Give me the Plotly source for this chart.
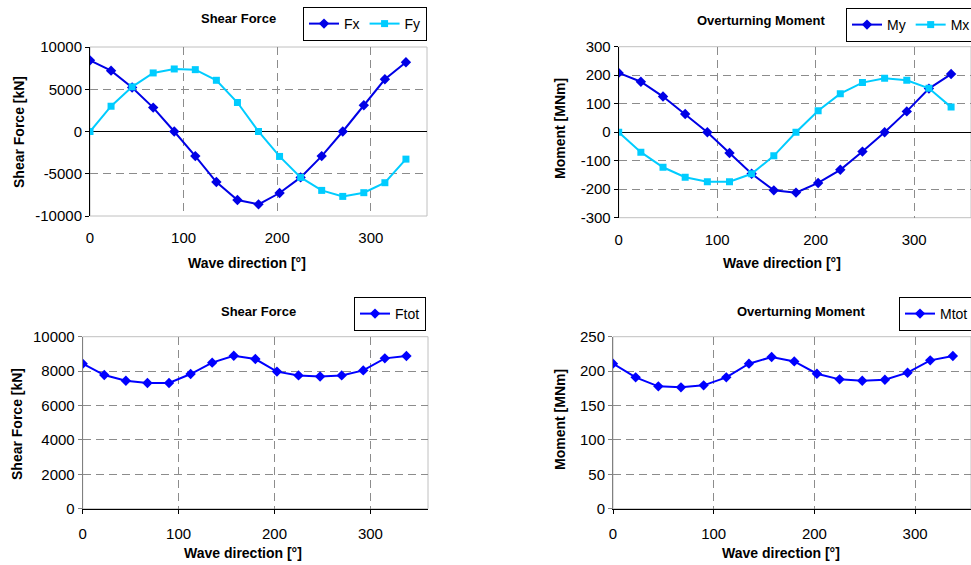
import plotly.graph_objects as go

# ---------------- data ----------------
direction = [0, 22.5, 45, 67.5, 90, 112.5, 135, 157.5, 180, 202.5, 225, 247.5, 270, 292.5, 315, 337.5]
Fx = [8420, 7200, 5200, 2830, 0, -2910, -5980, -8110, -8620, -7280, -5430, -2910, 0, 3110, 6180, 8190]
Fy = [0, 2990, 5280, 6930, 7400, 7320, 6060, 3430, 0, -2950, -5430, -6970, -7680, -7240, -6060, -3270]
My = [208, 177, 125, 64, 0, -73, -146, -204, -212, -178, -132, -68, 0, 73, 153, 204]
Mx = [0, -70, -123, -158, -174, -174, -146, -83, 0, 75, 135, 174, 189, 182, 154, 88]
Ftot = [8430, 7770, 7440, 7310, 7310, 7830, 8490, 8890, 8700, 7970, 7750, 7690, 7750, 8040, 8740, 8880]
Mtot = [210.8, 190.9, 177.8, 176.4, 179.3, 190.9, 210.8, 220.4, 214.1, 196.2, 188.0, 186.0, 187.5, 197.7, 215.6, 221.9]

x_ticks = [0, 100, 200, 300]
shear_ticks = [-10000, -5000, 0, 5000, 10000]
moment_ticks = [-300, -200, -100, 0, 100, 200, 300]
ftot_ticks = [0, 2000, 4000, 6000, 8000, 10000]
mtot_ticks = [0, 50, 100, 150, 200, 250]

W, H = 971, 565
FONT = "Liberation Sans, Arial, sans-serif"
BLUE = "#0000E6"
BLUE2 = "#0000FF"
CYAN = "#00CCFF"
GRID = "#8c8c8c"
BORDER = "#c0c0c0"

def px(v):
    return v / W

def py(v):
    return 1 - v / H

fig = go.Figure()

def add_series(x, y, name, color, symbol, size, xa, ya, legend):
    fig.add_trace(go.Scatter(
        x=x, y=y, name=name, mode="lines+markers",
        line=dict(color=color, width=2),
        marker=dict(symbol=symbol, size=size, color=color),
        xaxis=xa, yaxis=ya, legend=legend))

add_series(direction, Fx, "Fx", BLUE, "diamond", 8, "x", "y", "legend")
add_series(direction, Fy, "Fy", CYAN, "square", 7, "x", "y", "legend")
add_series(direction, My, "My", BLUE, "diamond", 8, "x2", "y2", "legend2")
add_series(direction, Mx, "Mx", CYAN, "square", 7, "x2", "y2", "legend2")
add_series(direction, Ftot, "Ftot", BLUE2, "diamond", 8, "x3", "y3", "legend3")
add_series(direction, Mtot, "Mtot", BLUE2, "diamond", 8, "x4", "y4", "legend4")

tickfont = dict(family=FONT, size=15, color="black")
dash = "8px,5px"

def xaxis(domain, rng, top, anchor):
    return dict(domain=domain, range=rng, tickvals=x_ticks,
                ticktext=[str(v) for v in x_ticks], tickfont=tickfont,
                showgrid=True, gridcolor=GRID, griddash=dash, gridwidth=1,
                zeroline=False, anchor=anchor, fixedrange=True,
                showline=not top, linecolor="black", linewidth=1,
                ticks="" if top else "outside", ticklen=4, tickcolor="black",
                ticklabelstandoff=11 if top else 7)

def yaxis(domain, rng, vals, top, anchor):
    return dict(domain=domain, range=rng, tickvals=vals,
                ticktext=[str(v) for v in vals], tickfont=tickfont,
                showgrid=True, gridcolor=GRID, griddash=dash, gridwidth=1,
                zeroline=top, zerolinecolor="black", zerolinewidth=1,
                showline=True, linecolor="black" if top else "#808080", linewidth=1,
                ticks="outside", ticklen=4, tickcolor="black" if top else "#808080",
                anchor=anchor, fixedrange=True)

top_y = [py(216), py(47)]
top_y2 = [py(217.7), py(46.7)]
bot_y = [py(508.7), py(336.7)]

fig.update_layout(
    xaxis=xaxis([px(90), px(427)], [0, 360], True, "y"),
    yaxis=yaxis(top_y, [-10000, 10000], shear_ticks, True, "x"),
    xaxis2=xaxis([px(618.7), 1.0], [0, 357.7], True, "y2"),
    yaxis2=yaxis(top_y2, [-300, 300], moment_ticks, True, "x2"),
    xaxis3=xaxis([px(82.7), px(428)], [0, 360], False, "y3"),
    yaxis3=yaxis(bot_y, [0, 10000], ftot_ticks, False, "x3"),
    xaxis4=xaxis([px(613), 1.0], [0, 355.5], False, "y4"),
    yaxis4=yaxis(bot_y, [0, 250], mtot_ticks, False, "x4"),
)

# plot-area borders (light grey frame)
for xr, yr in [("x", "y"), ("x2", "y2"), ("x3", "y3"), ("x4", "y4")]:
    fig.add_shape(type="rect", xref=xr + " domain", yref=yr + " domain",
                  x0=0, x1=1, y0=0, y1=1, line=dict(color=BORDER, width=1),
                  layer="below")

def legend_cfg(x, y):
    return dict(x=x, y=y, xanchor="left", yanchor="top", orientation="h",
                bordercolor="black", borderwidth=1, bgcolor="white",
                font=dict(family=FONT, size=14, color="black"),
                itemwidth=30, tracegroupgap=0,
                itemclick=False, itemdoubleclick=False)

fig.update_layout(
    legend=legend_cfg(px(303), py(7)),
    legend2=legend_cfg(px(846), py(8)),
    legend3=legend_cfg(px(354), py(297)),
    legend4=legend_cfg(px(899), py(297)),
)

annotations = []

def text(t, x, y, size, bold=True, angle=0):
    annotations.append(dict(text=f"<b>{t}</b>" if bold else t, x=px(x), y=py(y),
                            xref="paper", yref="paper", showarrow=False,
                            xanchor="center", yanchor="middle", textangle=angle,
                            font=dict(family=FONT, size=size, color="black")))

text("Shear Force", 238, 19, 13)
text("Overturning Moment", 761, 20, 13)
text("Shear Force", 258, 311, 13)
text("Overturning Moment", 801, 311, 13)

text("Wave direction [°]", 247, 263, 14)
text("Wave direction [°]", 782, 263, 14)
text("Wave direction [°]", 243, 553, 14)
text("Wave direction [°]", 781, 553, 14)

text("Shear Force [kN]", 19, 132, 14, angle=-90)
text("Moment [MNm]", 560, 129, 14, angle=-90)
text("Shear Force [kN]", 17, 424, 14, angle=-90)
text("Moment [MNm]", 560, 420, 14, angle=-90)

fig.update_layout(
    annotations=annotations,
    width=W, height=H,
    margin=dict(l=0, r=0, t=0, b=0, autoexpand=False),
    paper_bgcolor="white", plot_bgcolor="white",
    font=dict(family=FONT, size=14, color="black"),
    showlegend=True,
)

fig.write_html("out.html", config={"displayModeBar": False})
